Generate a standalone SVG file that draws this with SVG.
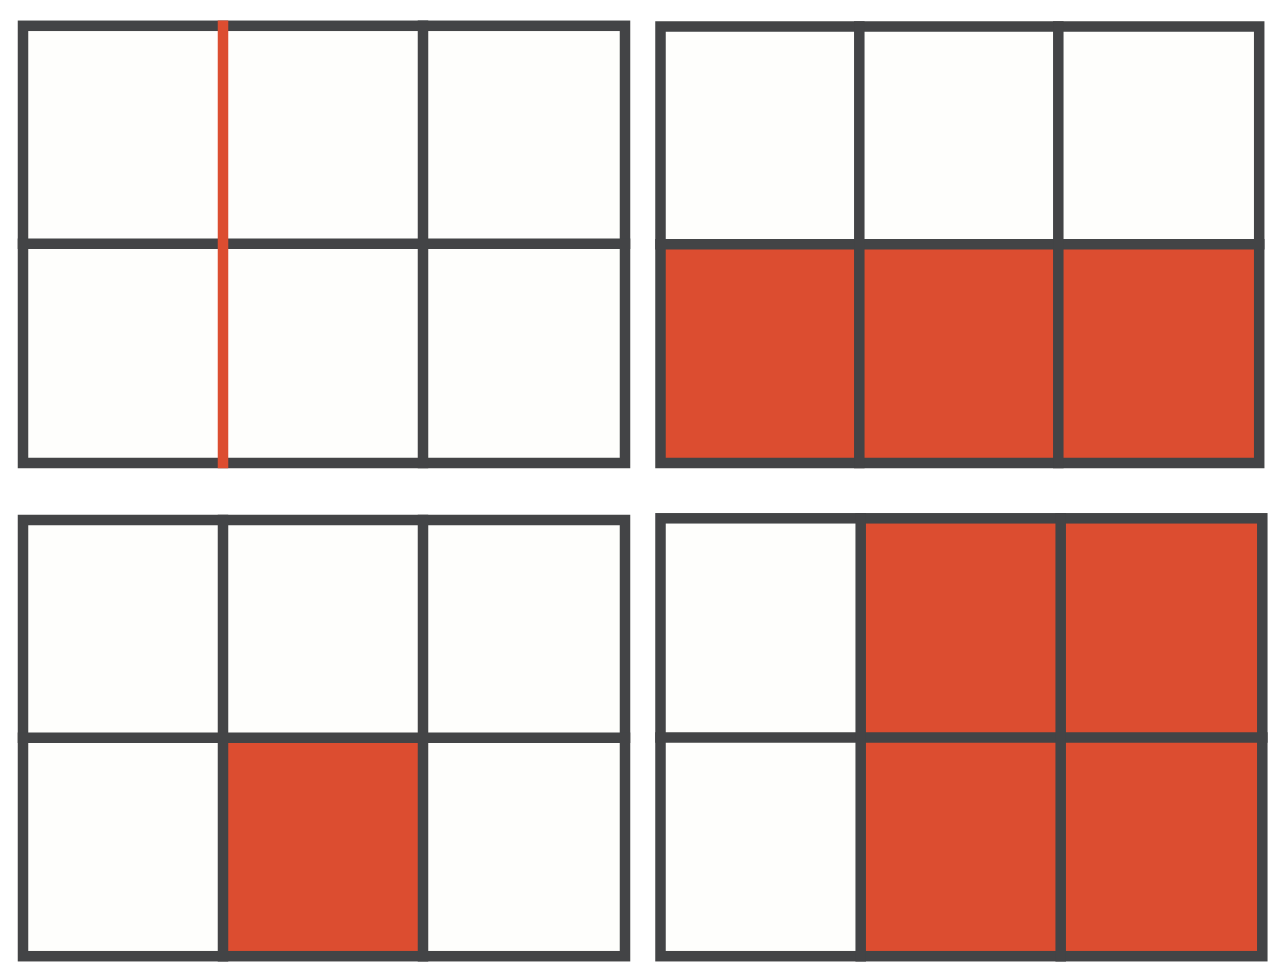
<svg xmlns="http://www.w3.org/2000/svg" width="1282" height="980" viewBox="0 0 1282 980">
  <defs>
    <style>
      .cell { fill: #FEFEFC; }
      .hot { fill: #DC4D30; }
      .grid { fill: none; stroke: #434446; stroke-width: 10.5; stroke-linecap: square; }
      .mark { stroke: #DC4D30; stroke-width: 10.5; }
    </style>
  </defs>
  <rect width="1282" height="980" fill="#FFFFFF"/>

  <g id="panel-top-left">
    <rect class="cell" x="23" y="25.8" width="602" height="437.2"/>
    <rect class="grid" x="23" y="25.8" width="602" height="437.2"/>
    <line class="grid" x1="23" y1="243.8" x2="625" y2="243.8"/>
    <line class="grid" x1="423" y1="25.8" x2="423" y2="463"/>
    <line class="mark" x1="223" y1="20.5" x2="223" y2="468.3"/>
  </g>

  <g id="panel-top-right">
    <rect class="cell" x="660.5" y="26.5" width="598.7" height="436.5"/>
    <rect class="hot" x="660.5" y="244.3" width="598.7" height="218.7"/>
    <rect class="grid" x="660.5" y="26.5" width="598.7" height="436.5"/>
    <line class="grid" x1="660.5" y1="244.3" x2="1259.2" y2="244.3"/>
    <line class="grid" x1="859.3" y1="26.5" x2="859.3" y2="463"/>
    <line class="grid" x1="1058.3" y1="26.5" x2="1058.3" y2="463"/>
  </g>

  <g id="panel-bottom-left">
    <rect class="cell" x="23" y="520" width="602" height="436.2"/>
    <rect class="hot" x="223" y="737.8" width="200" height="218.4"/>
    <rect class="grid" x="23" y="520" width="602" height="436.2"/>
    <line class="grid" x1="23" y1="737.8" x2="625" y2="737.8"/>
    <line class="grid" x1="223" y1="520" x2="223" y2="956.2"/>
    <line class="grid" x1="423" y1="520" x2="423" y2="956.2"/>
  </g>

  <g id="panel-bottom-right">
    <rect class="cell" x="660.5" y="518.3" width="601.8" height="437.9"/>
    <rect class="hot" x="860.7" y="518.3" width="401.6" height="437.9"/>
    <rect class="grid" x="660.5" y="518.3" width="601.8" height="437.9"/>
    <line class="grid" x1="660.5" y1="737.5" x2="1262.3" y2="737.5"/>
    <line class="grid" x1="860.7" y1="518.3" x2="860.7" y2="956.2"/>
    <line class="grid" x1="1060.7" y1="518.3" x2="1060.7" y2="956.2"/>
  </g>
</svg>
